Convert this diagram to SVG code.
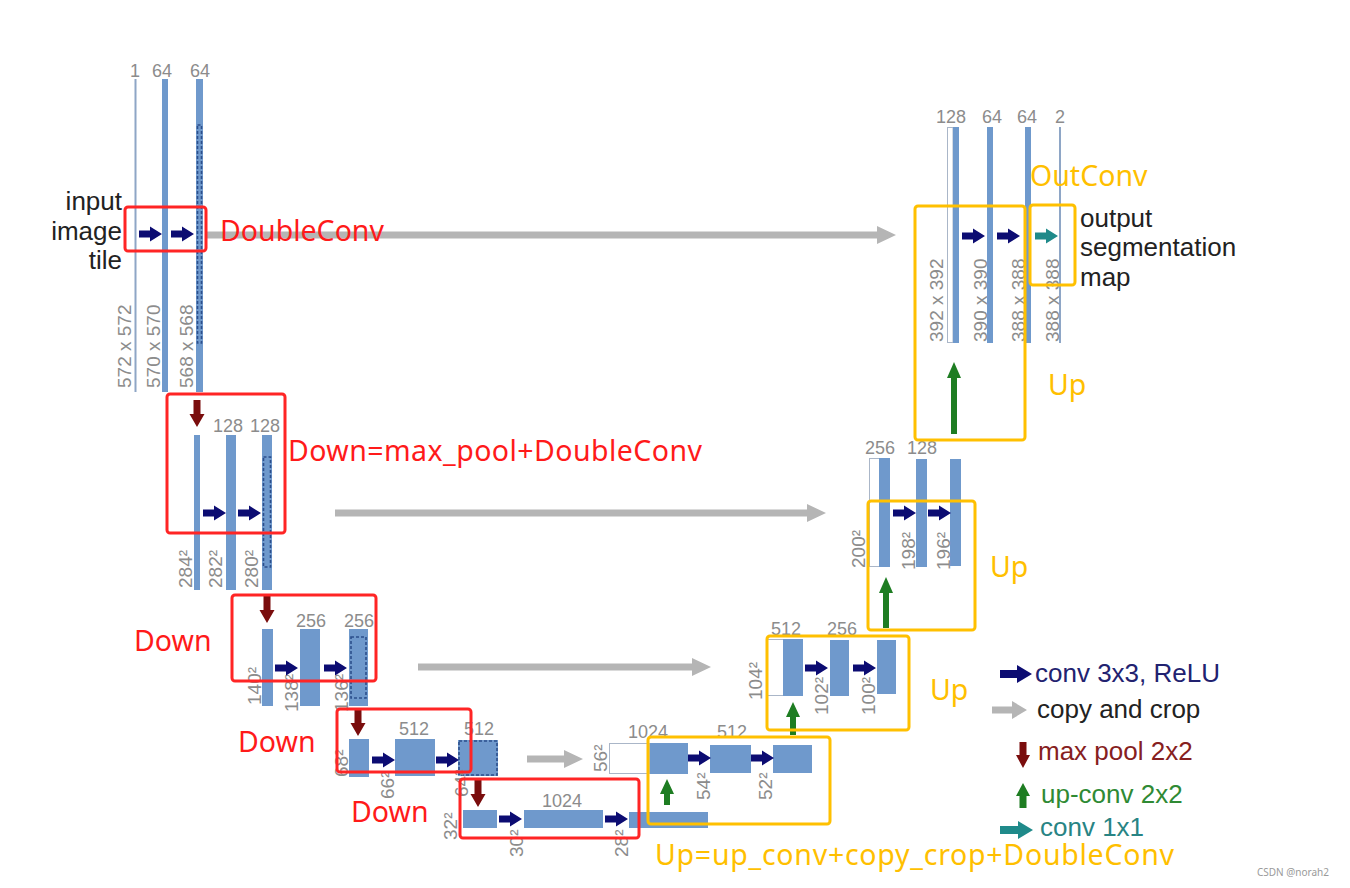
<svg xmlns="http://www.w3.org/2000/svg" xmlns:xlink="http://www.w3.org/1999/xlink" width="1350" height="888" viewBox="0 0 1350 888">
<style>
.bar{fill:#6f99cc}
.thin{fill:#8ea6c6}
.wbox{fill:#ffffff;stroke:#aab6c8;stroke-width:1}
.dash{fill:none;stroke:#2c4f8c;stroke-width:1.6;stroke-dasharray:3 2}
.dim{font-family:"Liberation Sans",Arial,sans-serif;font-size:18px;fill:#8c8c8c}
.vd{font-size:19px}
.lab{font-family:"Liberation Sans",Arial,sans-serif;font-size:26px;fill:#222222}
.red{font-family:"Noto Sans","Open Sans",sans-serif;font-size:28.5px;fill:#ff1a1a}
.yel{font-family:"Noto Sans","Open Sans",sans-serif;font-size:28.5px;fill:#ffbf00}
.rbox{fill:none;stroke:#ff2525;stroke-width:3}
.ybox{fill:none;stroke:#ffc000;stroke-width:3}
.copy{fill:#b5b5b5}
.up{fill:#1e7d22}
.conv{fill:#0c0c72}
.c11{fill:#1f8a8a}
.pool{fill:#7a0d0d}
</style>
<defs>
<path id="convA" d="M0,-3.5 H11 V-7.5 L23,0 L11,7.5 V3.5 H0 Z"/>
<path id="poolA" d="M-3.5,0 H3.5 V14 H7.5 L0,27 L-7.5,14 H-3.5 Z"/>
</defs>
<rect width="1350" height="888" fill="#ffffff"/>

<g id="enc1">
<rect class="thin" x="134.5" y="79" width="2" height="313"/>
<rect class="bar" x="162" y="79" width="6" height="313"/>
<rect class="bar" x="196" y="79" width="7" height="313"/>
<rect class="dash" x="197.5" y="125" width="4" height="218"/>
<text class="dim" x="135" y="77" text-anchor="middle">1</text>
<text class="dim" x="162" y="77" text-anchor="middle">64</text>
<text class="dim" x="200" y="77" text-anchor="middle">64</text>
<text class="dim vd" transform="translate(131,388) rotate(-90)">572 x 572</text>
<text class="dim vd" transform="translate(160,388) rotate(-90)">570 x 570</text>
<text class="dim vd" transform="translate(193,388) rotate(-90)">568 x 568</text>
<text class="lab" x="122" y="210" text-anchor="end">input</text>
<text class="lab" x="122" y="240" text-anchor="end">image</text>
<text class="lab" x="122" y="269" text-anchor="end">tile</text>
</g>

<g id="enc2">
<rect class="bar" x="194" y="435" width="6" height="155"/>
<rect class="bar" x="226" y="435" width="10" height="155"/>
<rect class="bar" x="262" y="435" width="10" height="155"/>
<rect class="dash" x="263.5" y="457" width="7" height="110"/>
<text class="dim" x="228" y="432" text-anchor="middle">128</text>
<text class="dim" x="265" y="432" text-anchor="middle">128</text>
<text class="dim vd" transform="translate(192,588) rotate(-90)">284²</text>
<text class="dim vd" transform="translate(222,588) rotate(-90)">282²</text>
<text class="dim vd" transform="translate(258,588) rotate(-90)">280²</text>
</g>

<g id="enc3">
<rect class="bar" x="262" y="629" width="11" height="77"/>
<rect class="bar" x="300" y="629" width="20" height="77"/>
<rect class="bar" x="349" y="629" width="19" height="77"/>
<rect class="dash" x="351" y="637" width="15" height="61"/>
<text class="dim" x="311" y="627" text-anchor="middle">256</text>
<text class="dim" x="359" y="627" text-anchor="middle">256</text>
<text class="dim vd" transform="translate(261,705) rotate(-90)">140²</text>
<text class="dim vd" transform="translate(298,712) rotate(-90)">138²</text>
<text class="dim vd" transform="translate(348,712) rotate(-90)">136²</text>
</g>

<g id="enc4">
<rect class="bar" x="349" y="739" width="20" height="38"/>
<rect class="bar" x="395" y="739" width="40" height="37"/>
<rect class="bar" x="458" y="740" width="40" height="36"/>
<rect class="dash" x="459" y="741" width="38" height="34"/>
<text class="dim" x="414" y="735" text-anchor="middle">512</text>
<text class="dim" x="479" y="735" text-anchor="middle">512</text>
<text class="dim vd" transform="translate(348,777) rotate(-90)">68²</text>
<text class="dim vd" transform="translate(394,799) rotate(-90)">66²</text>
<text class="dim vd" transform="translate(468,797) rotate(-90)">64²</text>
</g>

<g id="bottleneck">
<rect class="bar" x="463" y="810" width="34" height="18"/>
<rect class="bar" x="524" y="810" width="79" height="18"/>
<rect class="bar" x="629" y="812" width="79" height="16"/>
<text class="dim" x="562" y="807" text-anchor="middle">1024</text>
<text class="dim vd" transform="translate(457,840) rotate(-90)">32²</text>
<text class="dim vd" transform="translate(523,857) rotate(-90)">30²</text>
<text class="dim vd" transform="translate(628,857) rotate(-90)">28²</text>
</g>

<g id="dec4">
<rect class="wbox" x="609.5" y="743.5" width="40" height="30"/>
<rect class="bar" x="650" y="743" width="38" height="31"/>
<rect class="bar" x="710" y="745" width="41" height="28"/>
<rect class="bar" x="773" y="745" width="39" height="28"/>
<text class="dim" x="648" y="738" text-anchor="middle">1024</text>
<text class="dim" x="732" y="738" text-anchor="middle">512</text>
<text class="dim vd" transform="translate(607,772) rotate(-90)">56²</text>
<text class="dim vd" transform="translate(710,800) rotate(-90)">54²</text>
<text class="dim vd" transform="translate(772,800) rotate(-90)">52²</text>
</g>

<g id="dec3">
<rect class="wbox" x="767.5" y="639.5" width="16" height="56"/>
<rect class="bar" x="783" y="639" width="20" height="57"/>
<rect class="bar" x="830" y="640" width="19" height="56"/>
<rect class="bar" x="877" y="640" width="19" height="54"/>
<text class="dim" x="786" y="635" text-anchor="middle">512</text>
<text class="dim" x="842" y="635" text-anchor="middle">256</text>
<text class="dim vd" transform="translate(762,700) rotate(-90)">104²</text>
<text class="dim vd" transform="translate(828,715) rotate(-90)">102²</text>
<text class="dim vd" transform="translate(875,715) rotate(-90)">100²</text>
</g>

<g id="dec2">
<rect class="wbox" x="869.5" y="458.5" width="10" height="108"/>
<rect class="bar" x="879" y="458" width="11" height="109"/>
<rect class="bar" x="916" y="459" width="11" height="108"/>
<rect class="bar" x="950" y="459" width="11" height="107"/>
<text class="dim" x="880" y="454" text-anchor="middle">256</text>
<text class="dim" x="922" y="454" text-anchor="middle">128</text>
<text class="dim vd" transform="translate(865,568) rotate(-90)">200²</text>
<text class="dim vd" transform="translate(915,570) rotate(-90)">198²</text>
<text class="dim vd" transform="translate(950,570) rotate(-90)">196²</text>
</g>

<g id="dec1">
<rect class="wbox" x="947.5" y="127.5" width="5.5" height="215"/>
<rect class="bar" x="953" y="127" width="6" height="216"/>
<rect class="bar" x="987" y="127" width="6" height="216"/>
<rect class="bar" x="1025" y="127" width="6" height="216"/>
<rect class="thin" x="1059" y="127" width="2" height="216"/>
<text class="dim" x="951" y="123" text-anchor="middle">128</text>
<text class="dim" x="992" y="123" text-anchor="middle">64</text>
<text class="dim" x="1027" y="123" text-anchor="middle">64</text>
<text class="dim" x="1060" y="123" text-anchor="middle">2</text>
<text class="dim vd" transform="translate(943,342) rotate(-90)">392 x 392</text>
<text class="dim vd" transform="translate(987,342) rotate(-90)">390 x 390</text>
<text class="dim vd" transform="translate(1025,342) rotate(-90)">388 x 388</text>
<text class="dim vd" transform="translate(1059,342) rotate(-90)">388 x 388</text>
<text class="lab" x="1080" y="227">output</text>
<text class="lab" x="1080" y="256">segmentation</text>
<text class="lab" x="1080" y="286">map</text>
</g>

<g id="connectors">
<path class="copy" d="M206,231.5 H877 V226 L896,235 L877,244 V238.5 H206 Z"/>
<path class="copy" d="M335,509.5 H807 V504 L826,513 L807,522 V516.5 H335 Z"/>
<path class="copy" d="M418,663.5 H692 V658 L711,667 L692,676 V670.5 H418 Z"/>
<path class="copy" d="M527,755.5 H564 V750 L583,759 L564,768 V762.5 H527 Z"/>
<use href="#convA" class="conv" x="139" y="234"/>
<use href="#convA" class="conv" x="171" y="234"/>
<use href="#convA" class="conv" x="203" y="513"/>
<use href="#convA" class="conv" x="238" y="513"/>
<use href="#convA" class="conv" x="275" y="668"/>
<use href="#convA" class="conv" x="324" y="668"/>
<use href="#convA" class="conv" x="372" y="760"/>
<use href="#convA" class="conv" x="436" y="760"/>
<use href="#convA" class="conv" x="499" y="819"/>
<use href="#convA" class="conv" x="605" y="819"/>
<use href="#convA" class="conv" x="688" y="758"/>
<use href="#convA" class="conv" x="751" y="758"/>
<use href="#convA" class="conv" x="805" y="668"/>
<use href="#convA" class="conv" x="853" y="668"/>
<use href="#convA" class="conv" x="893" y="513"/>
<use href="#convA" class="conv" x="928" y="513"/>
<use href="#convA" class="conv" x="962" y="236"/>
<use href="#convA" class="conv" x="997" y="236"/>
<use href="#convA" class="c11" x="1035" y="236"/>
<use href="#poolA" class="pool" x="197" y="400"/>
<use href="#poolA" class="pool" x="267" y="596"/>
<use href="#poolA" class="pool" x="358" y="709"/>
<use href="#poolA" class="pool" x="478" y="780"/>
<path class="up" d="M664,805 V794 H660 L667,779 L674,794 H670 V805 Z"/>
<path class="up" d="M790,735 V717 H786 L793,702 L800,717 H796 V735 Z"/>
<path class="up" d="M883,628 V593 H879 L886,577 L893,593 H889 V628 Z"/>
<path class="up" d="M951,434 V378 H947 L954,362 L961,378 H957 V434 Z"/>
</g>

<g id="annotations">
<rect class="rbox" x="125" y="207" width="81" height="44" rx="3"/>
<text class="red" x="220" y="241">DoubleConv</text>
<rect class="rbox" x="167" y="394" width="118" height="139" rx="3"/>
<text class="red" x="288" y="461" textLength="414" lengthAdjust="spacing">Down=max_pool+DoubleConv</text>
<rect class="rbox" x="232" y="595" width="144" height="86" rx="3"/>
<text class="red" x="134" y="651">Down</text>
<rect class="rbox" x="337" y="709" width="134" height="63" rx="3"/>
<text class="red" x="238" y="752">Down</text>
<rect class="rbox" x="460" y="779" width="179" height="59" rx="3"/>
<text class="red" x="351" y="822">Down</text>
<rect class="ybox" x="648" y="737" width="182" height="87" rx="3"/>
<text class="yel" x="655" y="865" textLength="519" lengthAdjust="spacing">Up=up_conv+copy_crop+DoubleConv</text>
<rect class="ybox" x="767" y="636" width="142" height="94" rx="3"/>
<text class="yel" x="930" y="700">Up</text>
<rect class="ybox" x="868" y="501" width="107" height="129" rx="3"/>
<text class="yel" x="990" y="577">Up</text>
<rect class="ybox" x="915" y="206" width="110" height="234" rx="3"/>
<text class="yel" x="1048" y="395">Up</text>
<rect class="ybox" x="1030" y="205" width="45" height="80" rx="3"/>
<text class="yel" x="1030" y="186">OutConv</text>
</g>

<g id="legend">
<path class="conv" d="M1000,670 H1017 V665 L1032,674 L1017,683 V678 H1000 Z"/>
<text class="lab" x="1035" y="682" style="fill:#222270">conv 3x3, ReLU</text>
<path class="copy" d="M992,706.5 H1012 V701 L1027,710 L1012,719 V713.5 H992 Z"/>
<text class="lab" x="1037" y="718">copy and crop</text>
<path class="pool" d="M1019.5,742 H1026.5 V755 H1030 L1023,768 L1016,755 H1019.5 Z"/>
<text class="lab" x="1038" y="760" style="fill:#862020">max pool 2x2</text>
<path class="up" d="M1019.5,808 V796 H1016 L1023,783 L1030,796 H1026.5 V808 Z"/>
<text class="lab" x="1041" y="803" style="fill:#2f8a34">up-conv 2x2</text>
<path class="c11" d="M1000,826 H1018 V821 L1033,830 L1018,839 V834 H1000 Z"/>
<text class="lab" x="1040" y="836" style="fill:#288484">conv 1x1</text>
</g>

<text x="1257" y="876" style="font-family:'Noto Sans',sans-serif;font-size:10px;fill:#9a9a9a">CSDN @norah2</text>
</svg>
